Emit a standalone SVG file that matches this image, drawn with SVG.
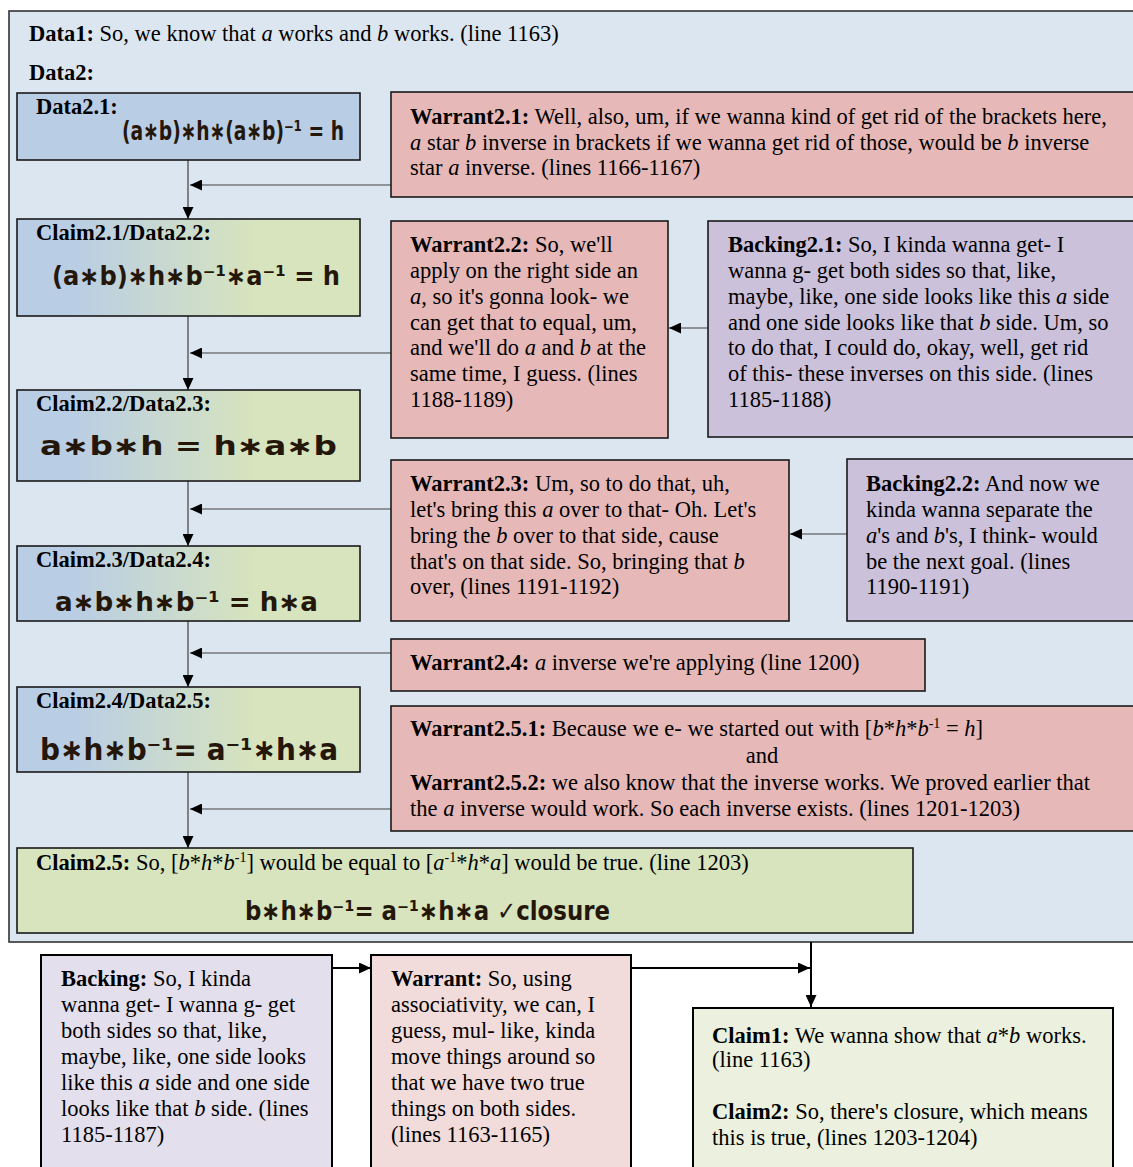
<svg xmlns="http://www.w3.org/2000/svg" width="1133" height="1167" viewBox="0 0 1133 1167">
<style>
text{font-family:"Liberation Serif","Times New Roman",serif;font-size:22.5px;fill:#000}
.b{font-weight:bold}
.i{font-style:italic}
.sup{font-size:14px}
.hw{font-family:"DejaVu Sans",sans-serif;font-size:26px;font-weight:bold;fill:#24170a}
.box{stroke:#1a1a1a;stroke-width:1.6}
.bbox{stroke:#000;stroke-width:2}
.warrant{fill:#e6b9b8}
.backing{fill:#ccc1da}
.data{fill:#b9cde5}
.claim{fill:url(#gr)}
.con{stroke:#404040;stroke-width:1.2;fill:none}
.con2{stroke:#000;stroke-width:2;fill:none}
</style>
<defs>
<linearGradient id="gr" x1="0" y1="0" x2="1" y2="0">
<stop offset="0.15" stop-color="#b9cde5"/>
<stop offset="0.7" stop-color="#d7e4bd"/>
</linearGradient>
<marker id="ah" markerUnits="userSpaceOnUse" markerWidth="12" markerHeight="11" refX="12" refY="5.5" orient="auto">
<path d="M0,0 L12,5.5 L0,11 z" fill="#000"/>
</marker>
</defs>
<rect width="1133" height="1167" fill="#fff"/>
<g id="frame">
<rect x="9" y="11" width="1140" height="931" fill="#dce6f1" stroke="#333" stroke-width="1.6"/>
<text x="29" y="41"><tspan class="b">Data1:</tspan> So, we know that <tspan class="i">a</tspan> works and <tspan class="i">b</tspan> works. (line 1163)</text>
<text x="29" y="80" class="b">Data2:</text>
</g>
<g id="connectors">
<line class="con" x1="188" y1="160" x2="188" y2="219" marker-end="url(#ah)"/>
<line class="con" x1="188" y1="316" x2="188" y2="390" marker-end="url(#ah)"/>
<line class="con" x1="188" y1="481" x2="188" y2="546" marker-end="url(#ah)"/>
<line class="con" x1="188" y1="621" x2="188" y2="687" marker-end="url(#ah)"/>
<line class="con" x1="188" y1="772" x2="188" y2="848" marker-end="url(#ah)"/>
<line class="con" x1="391" y1="185" x2="190" y2="185" marker-end="url(#ah)"/>
<line class="con" x1="391" y1="353" x2="190" y2="353" marker-end="url(#ah)"/>
<line class="con" x1="391" y1="509" x2="190" y2="509" marker-end="url(#ah)"/>
<line class="con" x1="391" y1="653" x2="190" y2="653" marker-end="url(#ah)"/>
<line class="con" x1="391" y1="809" x2="190" y2="809" marker-end="url(#ah)"/>
<line class="con" x1="708" y1="328" x2="669" y2="328" marker-end="url(#ah)"/>
<line class="con" x1="847" y1="534" x2="790" y2="534" marker-end="url(#ah)"/>
<line class="con2" x1="811" y1="942" x2="811" y2="1007" marker-end="url(#ah)"/>
<line class="con2" x1="631" y1="968" x2="810" y2="968" marker-end="url(#ah)"/>
<line class="con2" x1="332" y1="968" x2="371" y2="968" marker-end="url(#ah)"/>
</g>
<g id="data2-1">
<rect class="box data" x="17" y="93" width="343" height="67"/>
<text x="36" y="114" class="b">Data2.1:</text>
<text x="122" y="140" class="hw" textLength="222" lengthAdjust="spacingAndGlyphs">(a∗b)∗h∗(a∗b)⁻¹ = h</text>
</g>
<g id="warrant2-1">
<rect class="box warrant" x="391" y="92" width="760" height="105"/>
<text x="410" y="124"><tspan class="b">Warrant2.1:</tspan> Well, also, um, if we wanna kind of get rid of the brackets here,</text>
<text x="410" y="150"><tspan class="i">a</tspan> star <tspan class="i">b</tspan> inverse in brackets if we wanna get rid of those, would be <tspan class="i">b</tspan> inverse</text>
<text x="410" y="175">star <tspan class="i">a</tspan> inverse. (lines 1166-1167)</text>
</g>
<g id="claim2-1">
<rect class="box claim" x="17" y="219" width="343" height="97"/>
<text x="36" y="240" class="b">Claim2.1/Data2.2:</text>
<text x="52" y="285" class="hw" textLength="288" lengthAdjust="spacingAndGlyphs">(a∗b)∗h∗b⁻¹∗a⁻¹ = h</text>
</g>
<g id="warrant2-2">
<rect class="box warrant" x="391" y="221" width="277" height="217"/>
<text x="410" y="252"><tspan class="b">Warrant2.2:</tspan> So, we'll</text>
<text x="410" y="278">apply on the right side an</text>
<text x="410" y="304"><tspan class="i">a</tspan>, so it's gonna look- we</text>
<text x="410" y="330">can get that to equal, um,</text>
<text x="410" y="355">and we'll do <tspan class="i">a</tspan> and <tspan class="i">b</tspan> at the</text>
<text x="410" y="381">same time, I guess. (lines</text>
<text x="410" y="407">1188-1189)</text>
</g>
<g id="backing2-1">
<rect class="box backing" x="708" y="221" width="440" height="216"/>
<text x="728" y="252"><tspan class="b">Backing2.1:</tspan> So, I kinda wanna get- I</text>
<text x="728" y="278">wanna g- get both sides so that, like,</text>
<text x="728" y="304">maybe, like, one side looks like this <tspan class="i">a</tspan> side</text>
<text x="728" y="330">and one side looks like that <tspan class="i">b</tspan> side. Um, so</text>
<text x="728" y="355">to do that, I could do, okay, well, get rid</text>
<text x="728" y="381">of this- these inverses on this side. (lines</text>
<text x="728" y="407">1185-1188)</text>
</g>
<g id="claim2-2">
<rect class="box claim" x="17" y="390" width="343" height="91"/>
<text x="36" y="411" class="b">Claim2.2/Data2.3:</text>
<text x="40" y="455" class="hw" textLength="297" lengthAdjust="spacingAndGlyphs">a∗b∗h =  h∗a∗b</text>
</g>
<g id="warrant2-3">
<rect class="box warrant" x="391" y="460" width="398" height="161"/>
<text x="410" y="491"><tspan class="b">Warrant2.3:</tspan> Um, so to do that, uh,</text>
<text x="410" y="517">let's bring this <tspan class="i">a</tspan> over to that- Oh. Let's</text>
<text x="410" y="543">bring the <tspan class="i">b</tspan> over to that side, cause</text>
<text x="410" y="569">that's on that side. So, bringing that <tspan class="i">b</tspan></text>
<text x="410" y="594">over, (lines 1191-1192)</text>
</g>
<g id="backing2-2">
<rect class="box backing" x="847" y="459" width="300" height="162"/>
<text x="866" y="491"><tspan class="b">Backing2.2:</tspan> And now we</text>
<text x="866" y="517">kinda wanna separate the</text>
<text x="866" y="543"><tspan class="i">a</tspan>'s and <tspan class="i">b</tspan>'s, I think- would</text>
<text x="866" y="569">be the next goal. (lines</text>
<text x="866" y="594">1190-1191)</text>
</g>
<g id="claim2-3">
<rect class="box claim" x="17" y="546" width="343" height="75"/>
<text x="36" y="567" class="b">Claim2.3/Data2.4:</text>
<text x="55" y="611" class="hw" textLength="263" lengthAdjust="spacingAndGlyphs">a∗b∗h∗b⁻¹ = h∗a</text>
</g>
<g id="warrant2-4">
<rect class="box warrant" x="391" y="639" width="534" height="52"/>
<text x="410" y="670"><tspan class="b">Warrant2.4:</tspan> <tspan class="i">a</tspan> inverse we're applying (line 1200)</text>
</g>
<g id="claim2-4">
<rect class="box claim" x="17" y="687" width="343" height="85"/>
<text x="36" y="708" class="b">Claim2.4/Data2.5:</text>
<text x="40" y="760" class="hw" style="font-size:30px" textLength="298" lengthAdjust="spacingAndGlyphs">b∗h∗b⁻¹= a⁻¹∗h∗a</text>
</g>
<g id="warrant2-5">
<rect class="box warrant" x="391" y="706" width="760" height="125"/>
<text x="410" y="736"><tspan class="b">Warrant2.5.1:</tspan> Because we e- we started out with [<tspan class="i">b</tspan>*<tspan class="i">h</tspan>*<tspan class="i">b</tspan><tspan dy="-8" class="sup">-1</tspan><tspan dy="8"> = </tspan><tspan class="i">h</tspan>]</text>
<text x="762" y="763" text-anchor="middle">and</text>
<text x="410" y="790"><tspan class="b">Warrant2.5.2:</tspan> we also know that the inverse works. We proved earlier that</text>
<text x="410" y="816">the <tspan class="i">a</tspan> inverse would work. So each inverse exists. (lines 1201-1203)</text>
</g>
<g id="claim2-5">
<rect class="box" x="17" y="848" width="896" height="85" fill="#d7e4bd"/>
<text x="36" y="870"><tspan class="b">Claim2.5:</tspan> So, [<tspan class="i">b</tspan>*<tspan class="i">h</tspan>*<tspan class="i">b</tspan><tspan dy="-8" class="sup">-1</tspan><tspan dy="8">] would be equal to [</tspan><tspan class="i">a</tspan><tspan dy="-8" class="sup">-1</tspan><tspan dy="8">*</tspan><tspan class="i">h</tspan>*<tspan class="i">a</tspan>] would be true. (line 1203)</text>
<text x="245" y="920" class="hw" textLength="365" lengthAdjust="spacingAndGlyphs">b∗h∗b⁻¹= a⁻¹∗h∗a ✓closure</text>
</g>
<g id="backing">
<rect class="bbox" x="41" y="955" width="291" height="230" fill="#e4dfec"/>
<text x="61" y="986"><tspan class="b">Backing:</tspan> So, I kinda</text>
<text x="61" y="1012">wanna get- I wanna g- get</text>
<text x="61" y="1038">both sides so that, like,</text>
<text x="61" y="1064">maybe, like, one side looks</text>
<text x="61" y="1090">like this <tspan class="i">a</tspan> side and one side</text>
<text x="61" y="1116">looks like that <tspan class="i">b</tspan> side. (lines</text>
<text x="61" y="1142">1185-1187)</text>
</g>
<g id="warrant">
<rect class="bbox" x="371" y="955" width="260" height="230" fill="#f2dcdb"/>
<text x="391" y="986"><tspan class="b">Warrant:</tspan> So, using</text>
<text x="391" y="1012">associativity, we can, I</text>
<text x="391" y="1038">guess, mul- like, kinda</text>
<text x="391" y="1064">move things around so</text>
<text x="391" y="1090">that we have two true</text>
<text x="391" y="1116">things on both sides.</text>
<text x="391" y="1142">(lines 1163-1165)</text>
</g>
<g id="claim">
<rect class="bbox" x="693" y="1008" width="420" height="180" fill="#ebf1de"/>
<text x="712" y="1043"><tspan class="b">Claim1:</tspan> We wanna show that <tspan class="i">a</tspan>*<tspan class="i">b</tspan> works.</text>
<text x="712" y="1067">(line 1163)</text>
<text x="712" y="1119"><tspan class="b">Claim2:</tspan> So, there's closure, which means</text>
<text x="712" y="1145">this is true, (lines 1203-1204)</text>
</g>
</svg>
